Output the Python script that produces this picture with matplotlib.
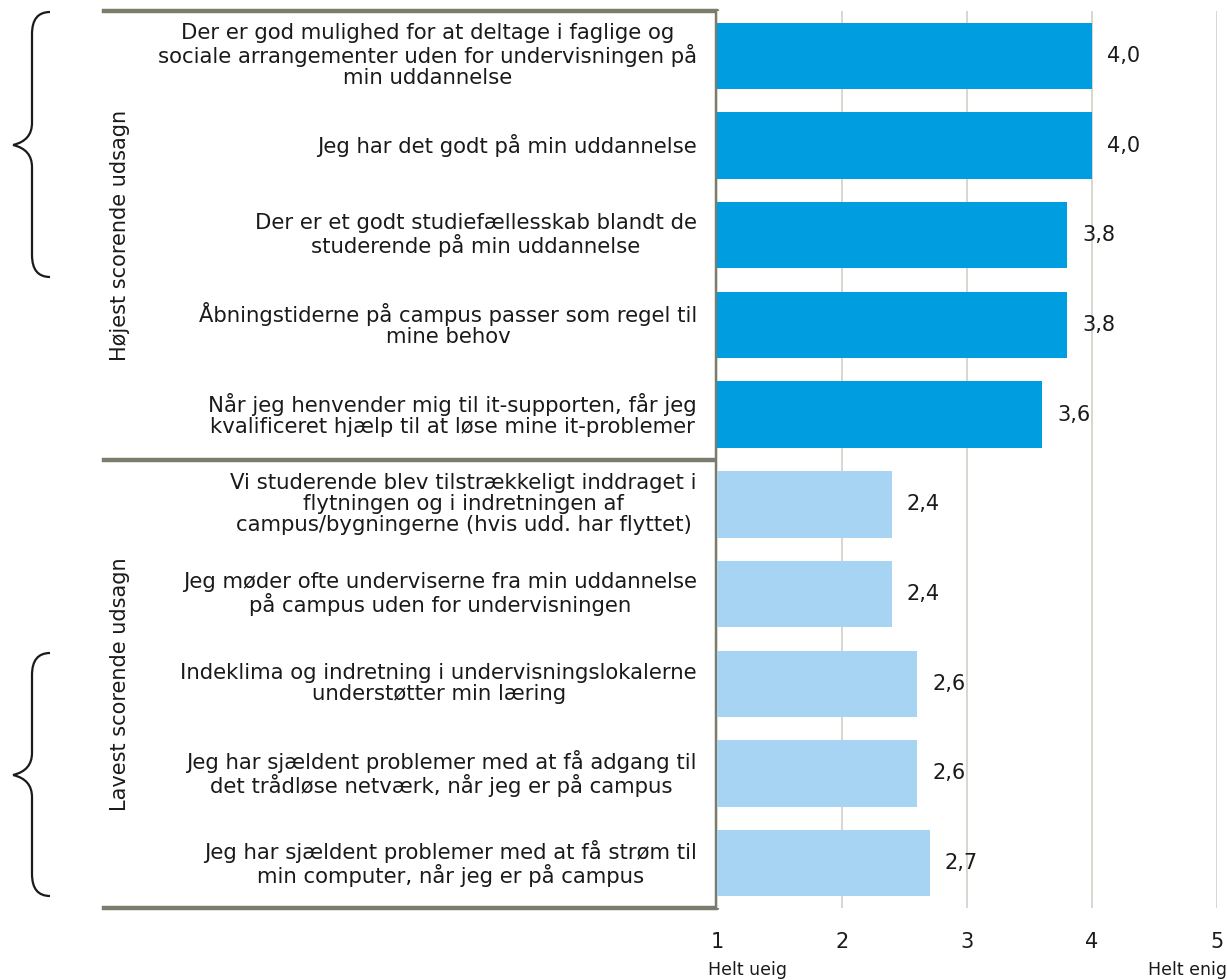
import matplotlib
matplotlib.use("Agg")
import matplotlib.pyplot as plt
from matplotlib.path import Path
from matplotlib.patches import PathPatch

labels = [
    "Der er god mulighed for at deltage i faglige og\nsociale arrangementer uden for undervisningen på\nmin uddannelse",
    "Jeg har det godt på min uddannelse",
    "Der er et godt studiefællesskab blandt de\nstuderende på min uddannelse",
    "Åbningstiderne på campus passer som regel til\nmine behov",
    "Når jeg henvender mig til it-supporten, får jeg\nkvalificeret hjælp til at løse mine it-problemer",
    "Vi studerende blev tilstrækkeligt inddraget i\nflytningen og i indretningen af\ncampus/bygningerne (hvis udd. har flyttet)",
    "Jeg møder ofte underviserne fra min uddannelse\npå campus uden for undervisningen",
    "Indeklima og indretning i undervisningslokalerne\nunderstøtter min læring",
    "Jeg har sjældent problemer med at få adgang til\ndet trådløse netværk, når jeg er på campus",
    "Jeg har sjældent problemer med at få strøm til\nmin computer, når jeg er på campus",
]
values = [4.0, 4.0, 3.8, 3.8, 3.6, 2.4, 2.4, 2.6, 2.6, 2.7]
groups = ["high"] * 5 + ["low"] * 5
group_names = ["Højest scorende udsagn", "Lavest scorende udsagn"]
xticks = [1, 2, 3, 4, 5]
scale_ends = ["Helt ueig", "Helt enig"]

colors = {"high": "#009EE0", "low": "#A8D4F4"}
W, H = 1227, 980
fig = plt.figure(figsize=(W / 100, H / 100), dpi=100)
plt.rcParams['font.family'] = ['DejaVu Sans']
FS = 15
TXT = "#1a1a1a"

L, R, T, B = 717, 1217, 11, 908
ax = fig.add_axes([L / W, 1 - B / H, (R - L) / W, (B - T) / H])
n = len(values)
ys = list(range(n))
ax.barh(ys, [v - 1 for v in values], left=1, height=0.74,
        color=[colors[g] for g in groups], zorder=3)
for y, v in zip(ys, values):
    ax.text(v + 0.12, y, f"{v:.1f}".replace(".", ","), va="center", ha="left",
            fontsize=FS, color=TXT, zorder=4)
ax.set_xlim(1, 5)
ax.set_ylim(n - 0.5, -0.5)
ax.set_xticks(xticks)
ax.set_xticklabels([str(t) for t in xticks], fontsize=FS, color=TXT)
ax.tick_params(axis="x", length=0, pad=17)
ax.set_yticks([])
for s in ax.spines.values():
    s.set_visible(False)
ax.grid(axis="x", color="#d4d4cc", linewidth=1.3, zorder=0)
ax.set_axisbelow(True)

# overlay in pixel coords
ov = fig.add_axes([0, 0, 1, 1], zorder=-1)
ov.set_xlim(0, W)
ov.set_ylim(H, 0)
ov.axis("off")

slot = (B - T) / n
for i, lab in enumerate(labels):
    yc = T + (i + 0.5) * slot
    ov.text(697, yc, lab, ha="right", va="center", multialignment="center",
            fontsize=15.3, color=TXT, linespacing=1.06)

# box
box_c = "#7c7c6c"
lw = 3.2
ov.plot([104, 717, 717, 104], [T, T, B, B], color=box_c, lw=lw, solid_capstyle="projecting")
ov.plot([104, 717], [T + 5 * slot, T + 5 * slot], color=box_c, lw=lw)

# group labels
ov.text(120, T + 2.5 * slot, group_names[0], rotation=90, ha="center", va="center",
        fontsize=FS, color=TXT)
ov.text(120, T + 7.5 * slot, group_names[1], rotation=90, ha="center", va="center",
        fontsize=FS, color=TXT)

def brace(y0, y1, ytip):
    xe, xv, xt = 50, 32, 13
    r = 22
    verts = [(xe, y0), (xv, y0), (xv, y0 + r), (xv, y0 + r),
             (xv, ytip - r), (xv, ytip - r * 0.2), (xt, ytip), (xt, ytip),
             (xv, ytip + r * 0.2), (xv, ytip + r), (xv, ytip + r),
             (xv, y1 - r), (xv, y1), (xe, y1)]
    codes = [Path.MOVETO, Path.CURVE3, Path.CURVE3, Path.LINETO,
             Path.LINETO, Path.CURVE3, Path.CURVE3, Path.MOVETO,
             Path.CURVE3, Path.CURVE3, Path.MOVETO,
             Path.LINETO, Path.CURVE3, Path.CURVE3]
    ov.add_patch(PathPatch(Path(verts, codes), fill=False, lw=1.6, edgecolor=TXT))

brace(12, 277, 145)
brace(653, 896, 775)

fig.text(708 / W, 1 - 970 / H, scale_ends[0], ha="left", va="center", fontsize=12.5, color=TXT)
fig.text(1227 / W, 1 - 970 / H, scale_ends[1], ha="right", va="center", fontsize=12.5, color=TXT)

fig.savefig("out.png", dpi=100, facecolor="white")
